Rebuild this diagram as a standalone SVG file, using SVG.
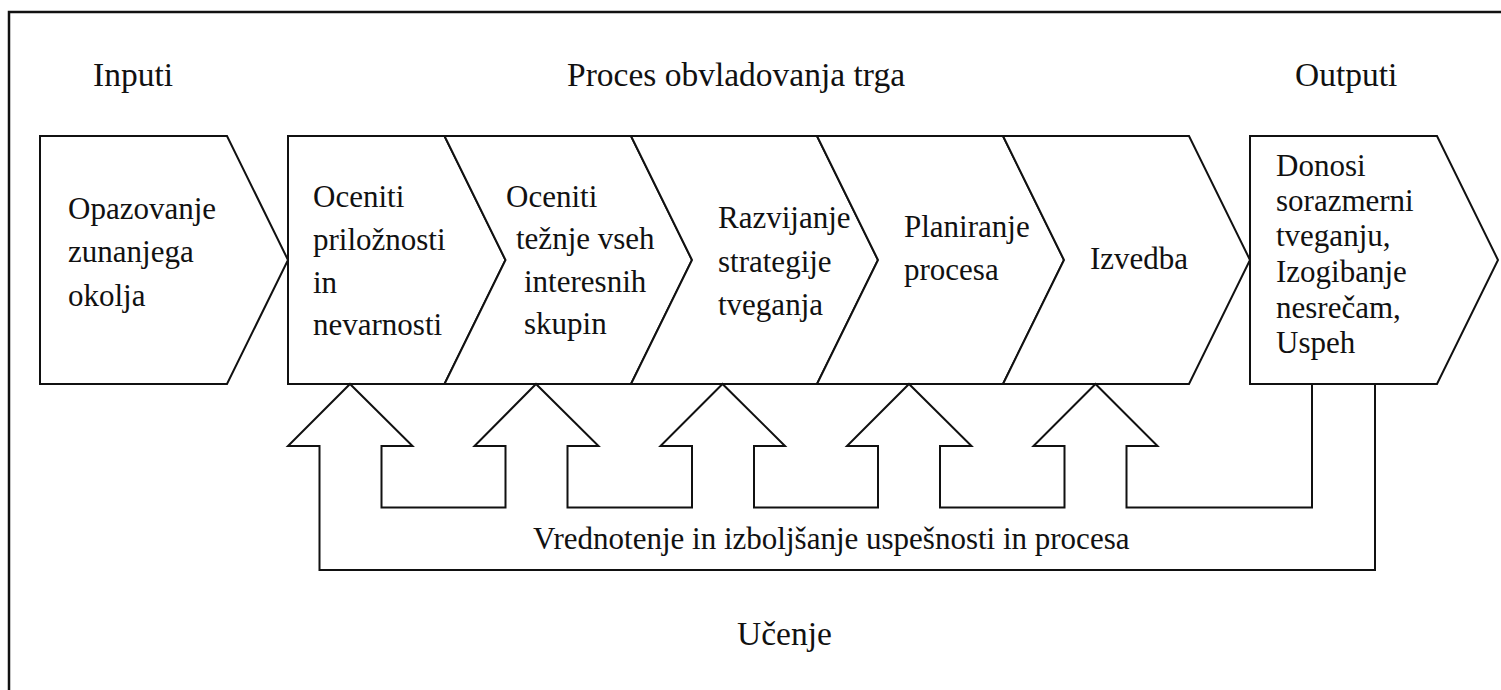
<svg xmlns="http://www.w3.org/2000/svg" width="1501" height="690" viewBox="0 0 1501 690">
<style>
.s{fill:#fff;stroke:#111;stroke-width:2;stroke-linejoin:miter}
.c{fill:none;stroke:#111;stroke-width:2;stroke-linejoin:miter}
text{font-family:"Liberation Serif","Times New Roman",serif;font-size:31px;fill:#111}
.t{font-size:33.5px}
</style>
<rect width="1501" height="690" fill="#fff"/>
<path d="M9,690 V12 H1501" fill="none" stroke="#111" stroke-width="2.5"/>
<text class="t" x="93" y="86">Inputi</text>
<text class="t" x="567" y="86">Proces obvladovanja trga</text>
<text class="t" x="1295" y="86">Outputi</text>
<g id="input">
<polygon class="s" points="40,136 227,136 288,260 227,384 40,384"/>
<text x="68" y="219">Opazovanje</text>
<text x="68" y="262">zunanjega</text>
<text x="68" y="306">okolja</text>
</g>
<g id="step1">
<polygon class="s" points="288,136 444.5,136 505.5,260 444.5,384 288,384"/>
<text x="313" y="207">Oceniti</text>
<text x="313" y="250">priložnosti</text>
<text x="313" y="293">in</text>
<text x="313" y="335">nevarnosti</text>
</g>
<g id="step2">
<polygon class="s" points="444.5,136 631,136 692,260 631,384 444.5,384 505.5,260"/>
<text x="506" y="207">Oceniti</text>
<text x="516" y="249">težnje vseh</text>
<text x="524" y="292">interesnih</text>
<text x="524" y="334">skupin</text>
</g>
<g id="step3">
<polygon class="s" points="631,136 817,136 878,260 817,384 631,384 692,260"/>
<text x="718" y="228">Razvijanje</text>
<text x="718" y="272">strategije</text>
<text x="718" y="315">tveganja</text>
</g>
<g id="step4">
<polygon class="s" points="817,136 1003,136 1064,260 1003,384 817,384 878,260"/>
<text x="904" y="237">Planiranje</text>
<text x="904" y="280">procesa</text>
</g>
<g id="step5">
<polygon class="s" points="1003,136 1189,136 1250,260 1189,384 1003,384 1064,260"/>
<text x="1090" y="269">Izvedba</text>
</g>
<g id="output">
<polygon class="s" points="1250,136 1437,136 1498,260 1437,384 1250,384"/>
<text x="1276" y="176">Donosi</text>
<text x="1276" y="211">sorazmerni</text>
<text x="1276" y="246">tveganju,</text>
<text x="1276" y="282">Izogibanje</text>
<text x="1276" y="318">nesrečam,</text>
<text x="1276" y="353">Uspeh</text>
</g>
<g id="connectors">
<polyline class="c" points="1312,384 1312,507.5 1126.5,507.5 1126.5,446 1157.5,446 1095.5,384 1033.5,446 1064.5,446 1064.5,507.5 940,507.5 940,446 971.5,446 909,384 847,446 878,446 878,507.5 754,507.5 754,446 785,446 722.5,384 660.5,446 692,446 692,507.5 567.5,507.5 567.5,446 598.5,446 536,384 474.5,446 505.5,446 505.5,507.5 381.5,507.5 381.5,446 412.5,446 350,384 288,446 319.5,446 319.5,570 1375,570 1375,384"/>
</g>
<text x="533" y="549">Vrednotenje in izboljšanje uspešnosti in procesa</text>
<text class="t" x="737" y="645">Učenje</text>
</svg>
